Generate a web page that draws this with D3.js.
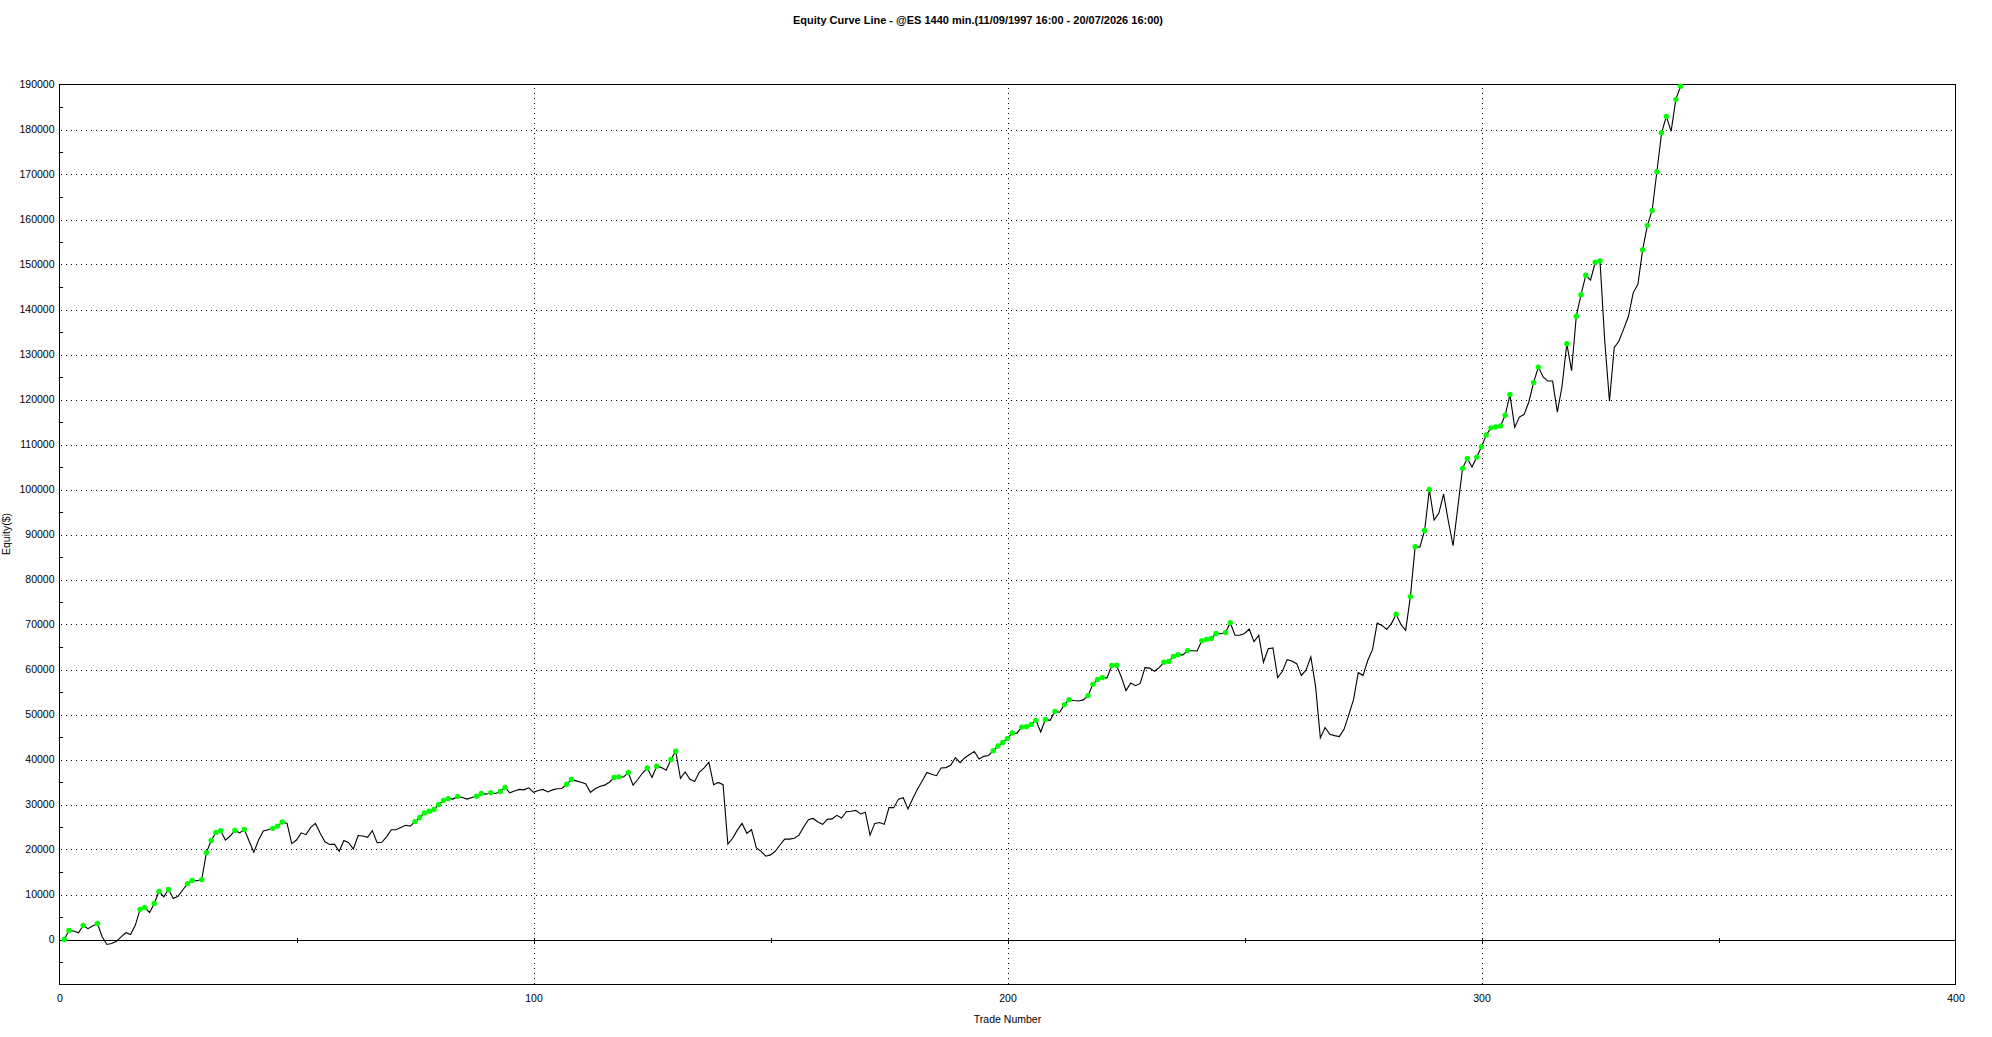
<!DOCTYPE html>
<html>
<head>
<meta charset="utf-8">
<script src="https://cdn.jsdelivr.net/npm/d3@7"></script>
<style>
  html, body { margin: 0; padding: 0; background: #ffffff; }
  svg { display: block; }
  text { font-family: "Liberation Sans", Arial, sans-serif; fill: #000; }
</style>
</head>
<body>
<svg id="chart" width="1992" height="1037"></svg>
<script>
// ---------------- DATA ----------------
const chartTitle = "Equity Curve Line - @ES 1440 min.(11/09/1997 16:00 - 20/07/2026 16:00)";
const xAxisTitle = "Trade Number";
const yAxisTitle = "Equity($)";

// Equity ($) after each trade, trade numbers 1..342
const equity = [
  0, 2000, 1900, 1500, 3100, 2400, 3000, 3550, 600, -1100,
  -900, -400, 600, 1500, 1100, 3200, 6700, 7100, 6000, 8000,
  10700, 9500, 11100, 9100, 9600, 11000, 12400, 13100, 13050, 13300,
  19300, 22000, 23800, 24200, 22100, 23000, 24250, 23700, 24450, 21900,
  19400, 22100, 24100, 24400, 24700, 25200, 26100, 25800, 21300, 22100,
  23700, 23300, 24900, 25800, 23600, 21700, 21100, 21200, 19600, 22000,
  21500, 20100, 23100, 23000, 22700, 24200, 21500, 21600, 22800, 24400,
  24400, 24900, 25400, 25200, 26200, 27100, 28100, 28500, 28900, 30000,
  30900, 31300, 31200, 31800, 31550, 31200, 31550, 31850, 32450, 32300,
  32650, 32450, 32900, 33800, 32600, 33000, 33350, 33250, 33700, 32700,
  33100, 33350, 32800, 33250, 33500, 33550, 34500, 35550, 35250, 34950,
  34600, 32700, 33500, 34000, 34300, 34950, 36000, 36150, 36100, 37100,
  34300, 35550, 37000, 38100, 36000, 38500, 38200, 37600, 40000, 41850,
  35800, 37250, 35600, 35100, 37200, 38150, 39400, 34400, 34900, 34400,
  21200, 22500, 24300, 25800, 23600, 24400, 20400, 19600, 18500, 18800,
  19600, 21000, 22300, 22300, 22500, 23200, 25000, 26600, 26900, 26100,
  25600, 26700, 26800, 27600, 27000, 28400, 28500, 28700, 27900, 28300,
  23200, 25800, 26000, 25600, 29300, 29300, 31200, 31500, 29000, 31300,
  33400, 35200, 37100, 36700, 36400, 38100, 38200, 38700, 40400, 39300,
  40400, 41100, 41800, 40100, 40700, 40900, 41950, 43000, 43800, 44700,
  45900, 45850, 47200, 47300, 47800, 48700, 46100, 48900, 48700, 50700,
  50500, 52200, 53300, 53100, 53000, 53250, 54200, 56700, 57800, 58200,
  58150, 60900, 60950, 58400, 55300, 57000, 56400, 56900, 60400, 60300,
  59600, 60400, 61600, 61800, 62900, 63300, 63250, 64200, 64150, 64100,
  66400, 66700, 66900, 68000, 67950, 68200, 70400, 67600, 67600, 68000,
  69000, 66200, 67600, 61600, 64600, 64800, 58200, 59600, 62200, 61900,
  61300, 58700, 59900, 62800, 56200, 44800, 47100, 45600, 45300, 45100,
  46700, 49900, 53300, 59300, 58700, 62000, 64400, 70300, 69800, 68900,
  70200, 72300, 70000, 68700, 76200, 87300, 87200, 90900, 100000, 93200,
  94700, 99000, 93000, 87500, 96000, 104700, 106900, 105000, 107200, 109500,
  112100, 113700, 113900, 114100, 116500, 121100, 113800, 116100, 116700, 119500,
  123800, 127200, 125000, 124100, 124100, 117200, 123000, 132400, 126400, 138500,
  143300, 147600, 146500, 150500, 150800, 133000, 119600, 131500, 133000, 135700,
  138500, 143700, 145600, 153300, 158700, 162000, 170600, 179300, 182900, 179600,
  186700, 189600
];

const xTickLabels = [0, 100, 200, 300, 400];
const xGridValues = [100, 200, 300];
const xMinorTicks = [50, 150, 250, 350];
const yTickLabels = [0, 10000, 20000, 30000, 40000, 50000, 60000, 70000, 80000, 90000,
                     100000, 110000, 120000, 130000, 140000, 150000, 160000, 170000, 180000, 190000];
const yGridValues = yTickLabels.filter(v => v > 0 && v < 190000);
const yMinorTicks = [-5000, 5000, 15000, 25000, 35000, 45000, 55000, 65000, 75000, 85000, 95000,
                     105000, 115000, 125000, 135000, 145000, 155000, 165000, 175000, 185000];

// ---------------- LAYOUT ----------------
const W = 1992, H = 1037;
const plot = { left: 59.5, right: 1955.5, top: 84.5, bottom: 984.5 };

const svg = d3.select("#chart");
svg.append("rect").attr("width", W).attr("height", H).attr("fill", "#fff");

const x = d3.scaleLinear().domain([0, 400]).range([plot.left, plot.right]);
const y = d3.scaleLinear().domain([-10000, 190000]).range([plot.bottom, plot.top]);

const points = equity.map((v, i) => ({ trade: i + 1, value: v }));

// grid lines (dotted)
const grid = svg.append("g").attr("shape-rendering", "crispEdges");
grid.selectAll("line.hg").data(yGridValues).enter().append("line")
  .attr("x1", plot.left + 1).attr("x2", plot.right - 4)
  .attr("y1", d => Math.round(y(d)) + 0.5).attr("y2", d => Math.round(y(d)) + 0.5)
  .attr("stroke", "#000").attr("stroke-width", 1).attr("stroke-dasharray", "1,4");
grid.selectAll("line.vg").data(xGridValues).enter().append("line")
  .attr("x1", d => Math.round(x(d)) + 0.5).attr("x2", d => Math.round(x(d)) + 0.5)
  .attr("y1", plot.top + 3).attr("y2", plot.bottom)
  .attr("stroke", "#000").attr("stroke-width", 1).attr("stroke-dasharray", "1,4");

// zero line
svg.append("line")
  .attr("x1", plot.left).attr("x2", plot.right)
  .attr("y1", Math.round(y(0)) + 0.5).attr("y2", Math.round(y(0)) + 0.5)
  .attr("stroke", "#000").attr("stroke-width", 1.3).attr("shape-rendering", "crispEdges");

// minor x ticks on zero line
svg.append("g").selectAll("line").data(xMinorTicks.concat(xGridValues)).enter().append("line")
  .attr("x1", d => Math.round(x(d)) + 0.5).attr("x2", d => Math.round(x(d)) + 0.5)
  .attr("y1", Math.round(y(0)) - 2).attr("y2", Math.round(y(0)) + 3)
  .attr("stroke", "#000").attr("stroke-width", 1).attr("shape-rendering", "crispEdges");

// minor y ticks on left axis
svg.append("g").selectAll("line").data(yMinorTicks).enter().append("line")
  .attr("x1", plot.left - 1).attr("x2", plot.left + 3)
  .attr("y1", d => Math.round(y(d)) + 0.5).attr("y2", d => Math.round(y(d)) + 0.5)
  .attr("stroke", "#000").attr("stroke-width", 1.2).attr("shape-rendering", "crispEdges");

// frame
svg.append("rect")
  .attr("x", plot.left).attr("y", plot.top)
  .attr("width", plot.right - plot.left).attr("height", plot.bottom - plot.top)
  .attr("fill", "none").attr("stroke", "#000").attr("stroke-width", 1.3)
  .attr("shape-rendering", "crispEdges");

// y axis labels
const yAxis = d3.axisLeft(y).tickValues(yTickLabels).tickSize(0).tickPadding(5)
  .tickFormat(d3.format("d"));
const gy = svg.append("g").attr("transform", `translate(${plot.left},0)`).call(yAxis);
gy.select(".domain").remove();
gy.selectAll("text").attr("font-family", '"Liberation Sans", Arial, sans-serif')
  .attr("font-size", "10.5px").attr("fill", "#000");

// x axis labels
const xAxis = d3.axisBottom(x).tickValues(xTickLabels).tickSize(0).tickPadding(10)
  .tickFormat(d3.format("d"));
const gx = svg.append("g").attr("transform", `translate(0,${plot.bottom})`).call(xAxis);
gx.select(".domain").remove();
gx.selectAll("text").attr("font-family", '"Liberation Sans", Arial, sans-serif')
  .attr("font-size", "10.5px").attr("fill", "#000");

// equity line
const line = d3.line().x(d => x(d.trade)).y(d => y(d.value));
svg.append("path").datum(points)
  .attr("d", line).attr("fill", "none")
  .attr("stroke", "#000").attr("stroke-width", 1.1).attr("stroke-linejoin", "miter");

// new equity high markers
let runMax = -Infinity;
const highs = points.filter(p => { if (p.value > runMax) { runMax = p.value; return true; } return false; });
svg.append("g").selectAll("circle").data(highs).enter().append("circle")
  .attr("cx", d => x(d.trade)).attr("cy", d => y(d.value)).attr("r", 2.7)
  .attr("fill", "#00ff00");

// titles
svg.append("text").attr("x", 978).attr("y", 24).attr("text-anchor", "middle")
  .attr("font-size", "11px").attr("font-weight", "bold")
  .attr("textLength", 370).attr("lengthAdjust", "spacingAndGlyphs")
  .text(chartTitle);

svg.append("text").attr("x", (plot.left + plot.right) / 2).attr("y", 1022.5)
  .attr("text-anchor", "middle").attr("font-size", "10.5px").text(xAxisTitle);

svg.append("text").attr("transform", "translate(10,534) rotate(-90)")
  .attr("text-anchor", "middle").attr("font-size", "10.5px").text(yAxisTitle);
</script>
</body>
</html>
